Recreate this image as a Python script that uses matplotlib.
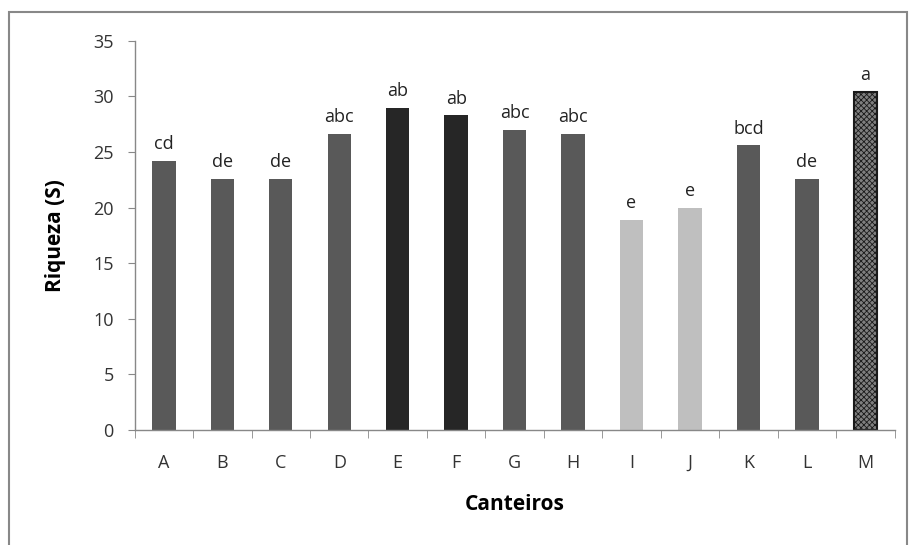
import matplotlib.pyplot as plt
from matplotlib.patches import Rectangle

categories = ['A', 'B', 'C', 'D', 'E', 'F', 'G', 'H', 'I', 'J', 'K', 'L', 'M']
values = [24.2, 22.6, 22.6, 26.6, 29.0, 28.3, 27.0, 26.6, 18.9, 20.0, 25.6, 22.6, 30.4]
letters = ['cd', 'de', 'de', 'abc', 'ab', 'ab', 'abc', 'abc', 'e', 'e', 'bcd', 'de', 'a']
yticks = [0, 5, 10, 15, 20, 25, 30, 35]

colors = ['#595959'] * 4 + ['#262626'] * 2 + ['#595959'] * 2 + ['#bfbfbf'] * 2 + ['#595959'] * 2 + ['#7f7f7f']

plt.rcParams['font.family'] = ['Open Sans', 'DejaVu Sans']
plt.rcParams['hatch.color'] = '#1a1a1a'
plt.rcParams['hatch.linewidth'] = 0.6

fig = plt.figure(figsize=(9.1, 5.45), dpi=100)
ax = fig.add_axes([0.148, 0.211, 0.835, 0.714])

x = list(range(len(categories)))
bars = ax.bar(x, values, width=0.4, color=colors, zorder=2)
bars[-1].set_hatch('xxxxxx')
bars[-1].set_edgecolor('#1a1a1a')
bars[-1].set_linewidth(1.5)

for xi, v, lab in zip(x, values, letters):
    ax.text(xi, v + 0.7, lab, ha='center', va='bottom', fontsize=13, color='#222222')

ax.set_xlim(-0.5, len(categories) - 0.5)
ax.set_ylim(0, 35)
ax.set_yticks(yticks)
ax.set_yticklabels([str(t) for t in yticks], fontsize=13, color='#333333')
ax.set_xticks(x)
ax.set_xticklabels(categories, fontsize=13, color='#333333')
ax.set_xticks([i - 0.5 for i in range(len(categories) + 1)], minor=True)
ax.tick_params(axis='x', which='major', length=0, pad=17)
ax.tick_params(axis='x', which='minor', length=6, color='#888888', direction='out')
ax.tick_params(axis='y', length=5, color='#888888', direction='out', pad=10)

for s in ['top', 'right']:
    ax.spines[s].set_visible(False)
for s in ['left', 'bottom']:
    ax.spines[s].set_color('#888888')
    ax.spines[s].set_linewidth(1)

ax.set_ylabel('Riqueza (S)', fontsize=15, fontweight='bold', labelpad=20)
ax.set_xlabel('Canteiros', fontsize=15, fontweight='bold', labelpad=16)

fig.patches.append(Rectangle((9 / 910, -0.01), 898 / 910, 1 - 12 / 545 + 0.01,
                             transform=fig.transFigure, fill=False,
                             edgecolor='#888888', linewidth=1.5))

fig.savefig('out.png', dpi=100)
